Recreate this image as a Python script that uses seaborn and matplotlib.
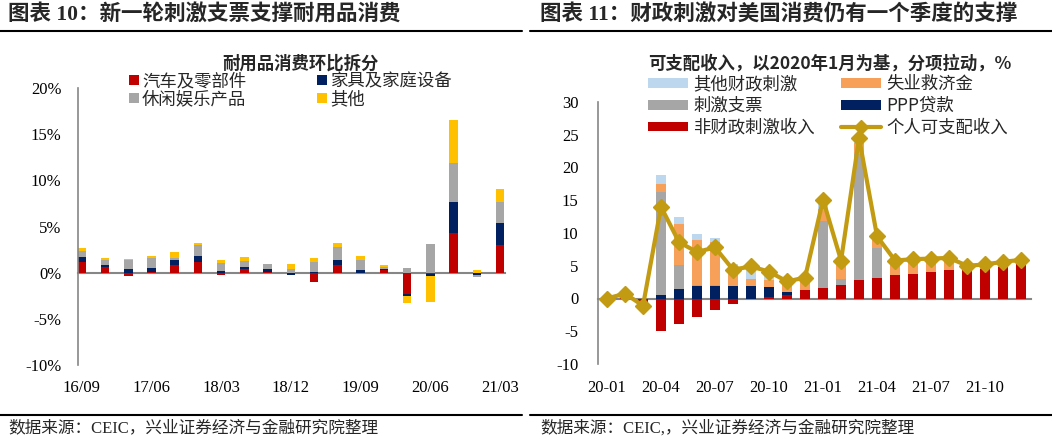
import numpy as np
import pandas as pd
import matplotlib
matplotlib.use("Agg")
import matplotlib.pyplot as plt
import seaborn as sns
from matplotlib.lines import Line2D
from matplotlib.patches import Patch
from matplotlib.ticker import FuncFormatter, FixedLocator

# ---------------- data: left chart (quarterly, % q/q contribution) ----------------
quarters = ['16/09', '16/12', '17/03', '17/06', '17/09', '17/12', '18/03', '18/06',
            '18/09', '18/12', '19/03', '19/06', '19/09', '19/12', '20/03', '20/06',
            '20/09', '20/12', '21/03']
auto_parts = [1.15, 0.6, -0.35, 0.05, 0.8, 1.15, -0.2, 0.35, 0.05, 0.0, -1.0, 0.8,
              0.0, 0.3, -2.3, -0.1, 4.35, 0.0, 3.05]
furniture = [0.55, 0.2, 0.35, 0.45, 0.55, 0.7, 0.2, 0.25, 0.3, -0.2, 0.05, 0.55,
             0.25, 0.15, -0.2, -0.25, 3.25, -0.2, 2.3]
recreation = [0.7, 0.55, 1.0, 1.1, 0.25, 1.1, 0.85, 0.7, 0.6, 0.4, 1.15, 1.45,
              1.1, 0.15, 0.5, 3.15, 4.25, -0.25, 2.3]
other_goods = [0.25, 0.2, 0.1, 0.25, 0.6, 0.3, 0.3, 0.45, 0.0, 0.5, 0.35, 0.45,
               0.45, 0.25, -0.8, -2.8, 4.7, 0.25, 1.45]
left_labels = ['汽车及零部件', '家具及家庭设备', '休闲娱乐产品', '其他']
left_tick_labels = ['16/09', '17/06', '18/03', '18/12', '19/09', '20/06', '21/03']

# ---------------- data: right chart (monthly, pp contribution) ----------------
months = ['20-01', '20-02', '20-03', '20-04', '20-05', '20-06', '20-07', '20-08',
          '20-09', '20-10', '20-11', '20-12', '21-01', '21-02', '21-03', '21-04',
          '21-05', '21-06', '21-07', '21-08', '21-09', '21-10', '21-11', '21-12']
non_fiscal = [0.0, 0.7, -1.0, -4.9, -3.95, -2.8, -1.7, -0.9, -0.1, 0.3, 0.6, 1.3,
              1.6, 2.0, 2.9, 3.2, 3.55, 3.8, 4.05, 4.3, 4.3, 4.55, 4.8, 5.3]
ppp_loans = [0.0, 0.0, 0.0, 0.5, 1.5, 1.9, 1.9, 1.9, 1.9, 1.5, 0.45, 0.0,
             0.0, 0.0, 0.0, 0.0, 0.0, 0.0, 0.0, 0.0, 0.0, 0.0, 0.0, 0.0]
stimulus_checks = [0.0, 0.0, 0.0, 15.7, 3.55, 0.15, 0.15, 0.0, 0.0, 0.0, 0.0, 0.0,
                   10.3, 1.0, 19.2, 4.5, 0.0, 0.0, 0.0, 0.0, 0.0, 0.0, 0.0, 0.0]
unemployment = [0.0, 0.0, 0.0, 1.3, 6.35, 6.85, 6.6, 3.1, 1.05, 1.0, 1.0, 1.6,
                1.8, 2.4, 1.6, 1.4, 1.8, 1.8, 1.6, 1.5, 0.7, 0.65, 0.8, 0.6]
other_fiscal = [0.0, 0.0, 0.0, 1.3, 1.1, 0.9, 0.65, 0.2, 1.6, 1.1, 0.4, 0.3,
                1.4, 0.4, 0.8, 0.4, 0.45, 0.4, 0.45, 0.4, 0.0, 0.0, 0.0, 0.0]
disposable_income = [0.0, 0.75, -1.1, 14.0, 8.6, 7.1, 7.8, 4.4, 4.9, 4.1, 2.6, 3.2,
                     15.1, 5.8, 24.5, 9.5, 5.8, 6.0, 6.1, 6.2, 5.0, 5.2, 5.6, 5.9]
right_tick_labels = ['20-01', '20-04', '20-07', '20-10', '21-01', '21-04', '21-07', '21-10']

# ---------------- style ----------------
sns.set_theme(style="white")
plt.rcParams['font.family'] = ['Liberation Serif', 'Noto Sans CJK SC', 'DejaVu Sans']
plt.rcParams['axes.unicode_minus'] = False

CJK = ['Noto Sans CJK SC', 'DejaVu Sans']
MIX = ['Liberation Serif', 'Noto Sans CJK SC']

RED = '#C00000'
NAVY = '#002060'
GRAY = '#A6A6A6'
YELLOW = '#FFC000'
ORANGE = '#F7A05A'
LBLUE = '#BDD7EE'
GOLD = '#C39B12'
AXC = '#868686'

W, H = 1052, 441
fig = plt.figure(figsize=(W / 100, H / 100), dpi=100)
fig.patch.set_facecolor('white')


def px_axes(x0, y0, x1, y1):
    return fig.add_axes([x0 / W, 1 - y1 / H, (x1 - x0) / W, (y1 - y0) / H])


def stacked(ax, x, series, colors, width):
    pos = np.zeros(len(x))
    neg = np.zeros(len(x))
    for vals, c in zip(series, colors):
        v = np.asarray(vals, dtype=float)
        bottom = np.where(v >= 0, pos, neg)
        ax.bar(x, v, width, bottom=bottom, color=c, linewidth=0, zorder=2)
        pos += np.clip(v, 0, None)
        neg += np.clip(v, None, 0)


def style_axes(ax, zero_y_px, label_top_px):
    for s in ['top', 'right']:
        ax.spines[s].set_visible(False)
    ax.spines['left'].set_color(AXC)
    ax.spines['left'].set_linewidth(1.2)
    ax.spines['bottom'].set_position(('data', 0))
    ax.spines['bottom'].set_color(AXC)
    ax.spines['bottom'].set_linewidth(1.5)
    ax.spines['bottom'].set_zorder(1)
    ax.tick_params(axis='y', direction='in', length=4, color=AXC, width=1,
                   labelsize=12, pad=12, labelcolor='black')
    ax.tick_params(axis='x', which='major', length=0, labelsize=12,
                   pad=(label_top_px - zero_y_px) * 0.72, labelcolor='black')
    ax.set_facecolor('white')
    ax.grid(False)
    for t in ax.get_xticklabels() + ax.get_yticklabels():
        t.set_fontfamily(MIX)


# ================= LEFT CHART =================
axL = px_axes(78, 88, 505, 365)
xL = np.arange(len(quarters))
stacked(axL, xL, [auto_parts, furniture, recreation, other_goods],
        [RED, NAVY, GRAY, YELLOW], 0.37)
axL.set_xlim(-0.16, 18.21)
axL.set_ylim(-10, 20)
axL.set_yticks([-10, -5, 0, 5, 10, 15, 20])
axL.yaxis.set_major_formatter(FuncFormatter(lambda v, p: f'{v:.0f}%'))
axL.set_xticks([quarters.index(q) for q in left_tick_labels])
axL.set_xticklabels(left_tick_labels)
style_axes(axL, 272, 379)
axL.tick_params(axis='y', pad=12)

handlesL = [Patch(facecolor=c, edgecolor='none') for c in [RED, GRAY, NAVY, YELLOW]]
labelsL = [left_labels[0], left_labels[2], left_labels[1], left_labels[3]]
legL = fig.legend(handlesL, labelsL, ncol=2, loc='upper left',
                  bbox_to_anchor=(129 / W, 1 - 72 / H), frameon=False,
                  prop={'family': CJK, 'size': 12.5},
                  handlelength=0.55, handleheight=0.55, handletextpad=0.2,
                  columnspacing=4.1, labelspacing=0.0, borderpad=0, borderaxespad=0)

fig.text(300 / W, 1 - 64 / H, '耐用品消费环比拆分', ha='center', va='center',
         fontsize=12.5, fontweight='bold', family=CJK)

# ================= RIGHT CHART =================
axR = px_axes(598, 102, 1031, 364)
xR = np.arange(len(months))
stacked(axR, xR, [non_fiscal, ppp_loans, stimulus_checks, unemployment, other_fiscal],
        [RED, NAVY, GRAY, ORANGE, LBLUE], 0.52)
line_df = pd.DataFrame({'x': xR, 'y': disposable_income})
sns.lineplot(data=line_df, x='x', y='y', ax=axR, color=GOLD, linewidth=3,
             marker='D', markersize=8.5, markeredgecolor=GOLD, markeredgewidth=1,
             zorder=4)
axR.set_xlabel('')
axR.set_ylabel('')
axR.set_xlim(-0.5, 23.55)
axR.set_ylim(-10, 30)
axR.set_yticks([-10, -5, 0, 5, 10, 15, 20, 25, 30])
axR.yaxis.set_major_formatter(FuncFormatter(lambda v, p: f'{v:.0f}'))
axR.set_xticks([months.index(m) for m in right_tick_labels])
axR.set_xticklabels(right_tick_labels)
axR.xaxis.set_minor_locator(FixedLocator(np.arange(1.5, 24, 2)))
style_axes(axR, 298, 379)
axR.tick_params(axis='x', which='minor', direction='in', length=4, color=AXC, width=1)
axR.tick_params(axis='y', pad=14)

handlesR = [Patch(facecolor=LBLUE, edgecolor='none'),
            Patch(facecolor=GRAY, edgecolor='none'),
            Patch(facecolor=RED, edgecolor='none'),
            Patch(facecolor=ORANGE, edgecolor='none'),
            Patch(facecolor=NAVY, edgecolor='none'),
            Line2D([0], [0], color=GOLD, lw=3, marker='D', markersize=7)]
labelsR = ['其他财政刺激', '刺激支票', '非财政刺激收入', '失业救济金', 'PPP贷款', '个人可支配收入']
legR = fig.legend(handlesR, labelsR, ncol=2, loc='upper left',
                  bbox_to_anchor=(648 / W, 1 - 75 / H), frameon=False,
                  prop={'family': CJK, 'size': 12.5},
                  handlelength=2.3, handleheight=0.5, handletextpad=0.3,
                  columnspacing=1.5, labelspacing=0.22, borderpad=0, borderaxespad=0)

fig.text(830 / W, 1 - 64 / H, '可支配收入，以2020年1月为基，分项拉动，%', ha='center',
         va='center', fontsize=12.5, fontweight='bold', family=CJK)

# ================= headers / footers =================
fig.text(8 / W, 1 - 15 / H, '图表 10：新一轮刺激支票支撑耐用品消费', ha='left', va='center',
         fontsize=15.5, fontweight='bold', family=MIX)
fig.text(540 / W, 1 - 15 / H, '图表 11：财政刺激对美国消费仍有一个季度的支撑', ha='left',
         va='center', fontsize=15.5, fontweight='bold', family=MIX)
fig.add_artist(Line2D([0, 522 / W], [1 - 31 / H] * 2, transform=fig.transFigure,
                      color='black', lw=1.5))
fig.add_artist(Line2D([530 / W, 1], [1 - 31 / H] * 2, transform=fig.transFigure,
                      color='black', lw=1.5))
fig.add_artist(Line2D([0, 522 / W], [1 - 415 / H] * 2, transform=fig.transFigure,
                      color='black', lw=1.5))
fig.add_artist(Line2D([530 / W, 1], [1 - 415 / H] * 2, transform=fig.transFigure,
                      color='black', lw=1.5))
fig.text(8 / W, 1 - 428 / H, '数据来源：CEIC，兴业证券经济与金融研究院整理', ha='left',
         va='center', fontsize=12, family=MIX)
fig.text(540 / W, 1 - 428 / H, '数据来源：CEIC,，兴业证券经济与金融研究院整理', ha='left',
         va='center', fontsize=12, family=MIX)

fig.savefig('out.png', dpi=100, facecolor='white')
